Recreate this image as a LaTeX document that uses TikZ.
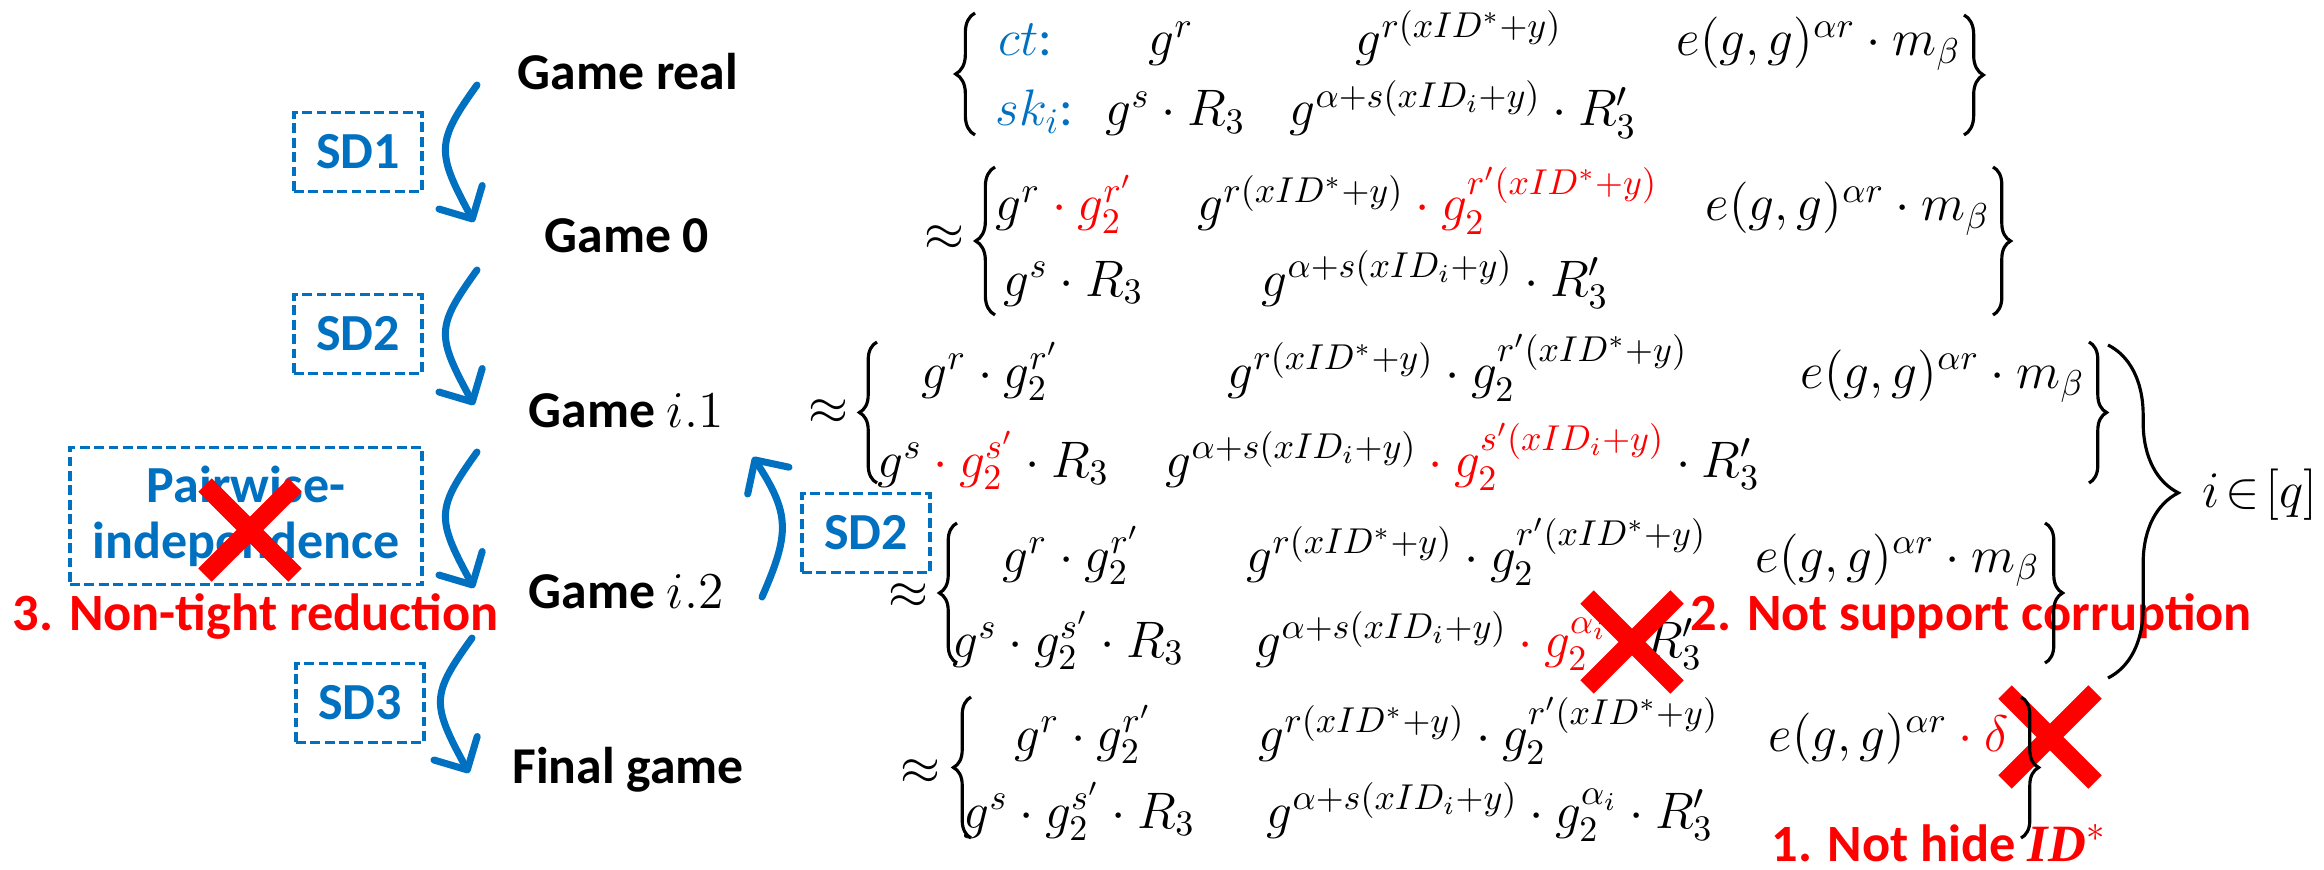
\documentclass[tikz,border=0pt]{standalone}
\usepackage{fix-cm}
\usepackage{amsmath,amssymb}
\usepackage[no-math]{fontspec}
\setmainfont{Carlito}
\newfontfamily\libserif{Liberation Serif}
\usetikzlibrary{arrows.meta,decorations.pathreplacing}
\definecolor{ppblue}{RGB}{0,112,192}
\definecolor{ppred}{RGB}{255,0,0}
\tikzset{
  game/.style={font=\fontsize{14.7}{17}\selectfont\bfseries, inner sep=0pt, anchor=base},
  sdbox/.style={draw=ppblue, dash pattern=on 2.8pt off 1.3pt, line width=1pt, text=ppblue,
    font=\fontsize{14.8}{16}\selectfont\bfseries, inner sep=0pt, minimum width=1.28cm, minimum height=0.79cm, align=center},
  flow/.style={draw=ppblue, line width=2pt, line cap=round,
    -{Straight Barb[length=7pt, width=14pt, round]}},
  mth/.style={font=\fontsize{14.6}{17.5}\selectfont, inner sep=0pt, anchor=base west},
  apx/.style={font=\fontsize{14.6}{17.5}\selectfont, inner sep=0pt, anchor=center},
  warn/.style={text=ppred, font=\fontsize{14.9}{18}\selectfont\bfseries, inner sep=0pt},
  xmark/.style={draw=ppred, line width=5.4pt},
  mbrace/.style={draw, line width=0.9pt, decorate, decoration={brace, amplitude=#1}},
}
\newcommand{\rdot}{\mathbin{\color{ppred}\cdot}}
\begin{document}
\begin{tikzpicture}[x=0.01cm,y=-0.01cm]
\useasboundingbox (0,0) rectangle (2324,870);

% ---- game labels
\node[game] (g0) at (628,90) {Game real};
\node[game] (g1) at (627,252) {Game 0};
\node[game] (g2) at (626,427) {Game $i.1$};
\node[game] (g3) at (626,608) {Game $i.2$};
\node[game] (g4) at (628,783) {Final game};

% ---- reduction boxes
\node[sdbox] (sd1) at (358,152) {SD1};
\node[sdbox] (sd2) at (358,334) {SD2};
\node[sdbox, minimum width=3.52cm, minimum height=1.37cm] (pw) at (246,516) {Pairwise-\\independence};
\node[sdbox] (sd3) at (360,703) {SD3};
\node[sdbox] (sd2b) at (866,533) {SD2};

% ---- arrows
\coordinate (a1s) at (477,85);  \coordinate (a1e) at (474,222);
\coordinate (a2s) at (477,270); \coordinate (a2e) at (474,405);
\coordinate (a3s) at (477,452); \coordinate (a3e) at (474,588);
\coordinate (a4s) at (472,638); \coordinate (a4e) at (469,773);
\coordinate (a5s) at (762,597); \coordinate (a5e) at (753,457);
\draw[flow] (a1s) .. controls +(-41,57) and +(-38,-70) .. (a1e);
\draw[flow] (a2s) .. controls +(-41,57) and +(-38,-70) .. (a2e);
\draw[flow] (a3s) .. controls +(-41,57) and +(-38,-70) .. (a3e);
\draw[flow] (a4s) .. controls +(-41,57) and +(-38,-70) .. (a4e);
\draw[flow] (a5s) .. controls +(28,-64) and +(37,57) .. (a5e);

% ---- block 0 (Game real)
\node[mth, text=ppblue] (b0ct) at (998,56) {$ct$:};
\node[mth] (b0a1) at (1148,56) {$g^{r}$};
\node[mth] (b0a2) at (1355,56) {$g^{r(xID^{*}+y)}$};
\node[mth] (b0a3) at (1676,56) {$e(g,g)^{\alpha r}\cdot m_{\beta}$};
\node[mth, text=ppblue] (b0sk) at (995,126) {$sk_{i}$:};
\node[mth] (b0b1) at (1105,126) {$g^{s}\cdot R_{3}$};
\node[mth] (b0b2) at (1289,126) {$g^{\alpha+s(xID_{i}+y)}\cdot R'_{3}$};

% ---- block 1 (Game 0)
\node[apx] (b1ap) at (944,238) {$\approx$};
\node[mth] (b1a1) at (995,221) {$g^{r}\rdot\textcolor{ppred}{g_{2}^{r'}}$};
\node[mth] (b1a2) at (1197,221) {$g^{r(xID^{*}+y)}\rdot\textcolor{ppred}{g_{2}^{r'(xID^{*}+y)}}$};
\node[mth] (b1a3) at (1705,221) {$e(g,g)^{\alpha r}\cdot m_{\beta}$};
\node[mth] (b1b1) at (1003,296) {$g^{s}\cdot R_{3}$};
\node[mth] (b1b2) at (1261,296) {$g^{\alpha+s(xID_{i}+y)}\cdot R'_{3}$};

% ---- block 2 (Game i.1)
\node[apx] (b2ap) at (828,412) {$\approx$};
\node[mth] (b2a1) at (921,388) {$g^{r}\cdot g_{2}^{r'}$};
\node[mth] (b2a2) at (1227,388) {$g^{r(xID^{*}+y)}\cdot g_{2}^{r'(xID^{*}+y)}$};
\node[mth] (b2a3) at (1800,388) {$e(g,g)^{\alpha r}\cdot m_{\beta}$};
\node[mth] (b2b1) at (877,477) {$g^{s}\rdot\textcolor{ppred}{g_{2}^{s'}}\cdot R_{3}$};
\node[mth] (b2b2) at (1165,477) {$g^{\alpha+s(xID_{i}+y)}\rdot\textcolor{ppred}{g_{2}^{s'(xID_{i}+y)}}\cdot R'_{3}$};

% ---- block 3 (Game i.2)
\node[apx] (b3ap) at (908,596) {$\approx$};
\node[mth] (b3a1) at (1002,572) {$g^{r}\cdot g_{2}^{r'}$};
\node[mth] (b3a2) at (1246,572) {$g^{r(xID^{*}+y)}\cdot g_{2}^{r'(xID^{*}+y)}$};
\node[mth] (b3a3) at (1755,572) {$e(g,g)^{\alpha r}\cdot m_{\beta}$};
\node[mth] (b3b1) at (952,657) {$g^{s}\cdot g_{2}^{s'}\cdot R_{3}$};
\node[mth] (b3b2) at (1255,657) {$g^{\alpha+s(xID_{i}+y)}\rdot\textcolor{ppred}{g_{2}^{\alpha_{i}}}\cdot R'_{3}$};

% ---- block 4 (Final game)
\node[apx] (b4ap) at (920,772) {$\approx$};
\node[mth] (b4a1) at (1014,751) {$g^{r}\cdot g_{2}^{r'}$};
\node[mth] (b4a2) at (1258,751) {$g^{r(xID^{*}+y)}\cdot g_{2}^{r'(xID^{*}+y)}$};
\node[mth] (b4a3) at (1768,751) {$e(g,g)^{\alpha r}\rdot\textcolor{ppred}{\delta}$};
\node[mth] (b4b1) at (963,828) {$g^{s}\cdot g_{2}^{s'}\cdot R_{3}$};
\node[mth] (b4b2) at (1266,828) {$g^{\alpha+s(xID_{i}+y)}\cdot g_{2}^{\alpha_{i}}\cdot R'_{3}$};

\node[mth, anchor=base east] (iq) at (2318,507) {$i\!\in\![q]$};

% ---- red remarks
\node[warn, anchor=base west] (w3) at (12,630) {3. Non-tight reduction};
\node[warn, anchor=base west] (w2) at (1690,630) {2. Not support corruption};
\node[warn, anchor=base east] (w1) at (2107,861) {1. Not hide {\libserif\itshape ID}$^{*}$};

% ---- crosses
\draw[xmark] (205,485) -- (295,575); \draw[xmark] (205,575) -- (295,485);
\draw[xmark] (1587,597) -- (1677,687); \draw[xmark] (1587,687) -- (1677,597);
\draw[xmark] (2005,692) -- (2095,782); \draw[xmark] (2005,782) -- (2095,692);

% ---- braces
\draw[mbrace=5.5pt] (975,135) -- (975,13);
\draw[mbrace=5.5pt] (1964,15) -- (1964,135);
\draw[mbrace=5.5pt] (995,315) -- (995,167);
\draw[mbrace=5pt] (1993,167) -- (1993,315);
\draw[mbrace=5pt] (877,483) -- (877,342);
\draw[mbrace=5pt] (2089,342) -- (2089,483);
\draw[mbrace=5pt] (957,663) -- (957,523);
\draw[mbrace=5pt] (2045,523) -- (2045,663);
\draw[mbrace=5pt] (971,838) -- (971,697);
\draw[mbrace=5pt] (2021,697) -- (2021,838);
\draw[line width=0.9pt, decorate, decoration={brace, amplitude=20pt, aspect=0.444}] (2108,345) -- (2108,678);
\end{tikzpicture}
\end{document}
